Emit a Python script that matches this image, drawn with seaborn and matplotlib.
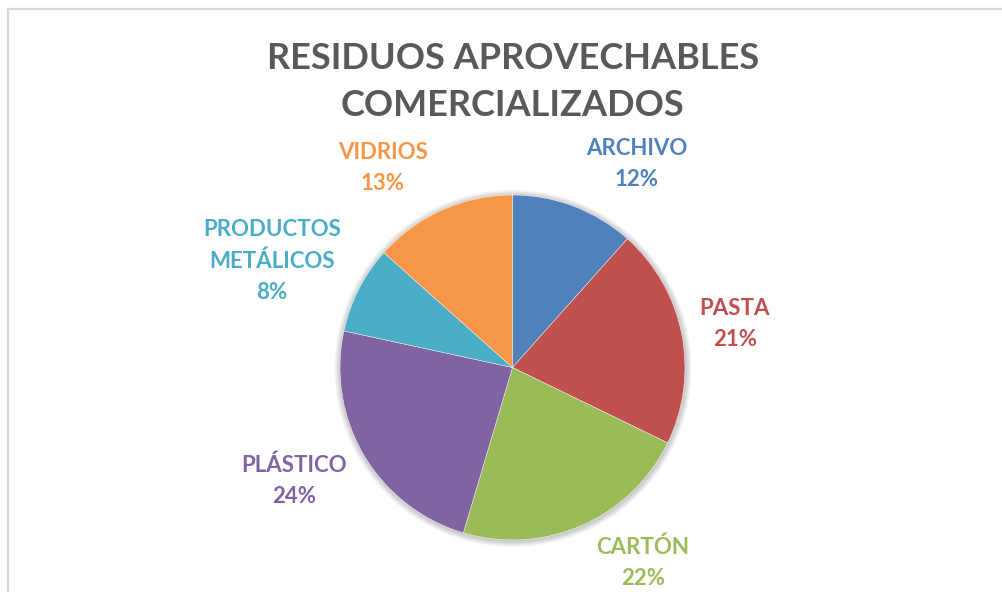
import matplotlib
matplotlib.use("Agg")
import matplotlib.pyplot as plt
import matplotlib.patches as mpatches
import seaborn as sns

categories = ["ARCHIVO", "PASTA", "CARTÓN", "PLÁSTICO", "PRODUCTOS\nMETÁLICOS", "VIDRIOS"]
values = [11.6, 20.6, 22.4, 23.8, 8.2, 13.4]
colors = ["#4F81BD", "#C0504D", "#9BBB59", "#8064A2", "#4BACC6", "#F79646"]
title = "RESIDUOS APROVECHABLES\nCOMERCIALIZADOS"

sns.set_theme(style="white")
plt.rcParams["font.family"] = ["Lato", "DejaVu Sans"]

W, H = 1003, 592
fig = plt.figure(figsize=(W / 100, H / 100), dpi=100)
ax = fig.add_axes([0, 0, 1, 1])

# outer chart frame
fig.patches.append(mpatches.Rectangle((8 / W, -0.05), 1.2, (H - 9) / H + 0.05,
                                      transform=fig.transFigure, fill=False,
                                      edgecolor="#D9D9D9", linewidth=1.6))

cx, cy, r = 512.5, H - 367.5, 172.5

# soft shadow around the pie
for k in range(6, 0, -1):
    ax.add_patch(mpatches.Circle((cx + 0.5, cy - 1), r + k, facecolor="#000000",
                                 alpha=0.035, edgecolor="none", zorder=0))

wedges, _ = ax.pie(values, colors=colors, startangle=90, counterclock=False,
                   center=(cx, cy), radius=r, frame=True,
                   wedgeprops=dict(edgecolor="#FFFFFF", linewidth=0.3, zorder=2))
ax.set_xlim(0, W)
ax.set_ylim(0, H)
ax.set_aspect("equal")
ax.axis("off")

total = sum(values)
label_pos = [(637, 164), (735, 324), (643, 563), (294, 481), (272, 261), (383, 168)]
for cat, val, col, (lx, ly) in zip(categories, values, colors, label_pos):
    pct = round(100 * val / total)
    ax.text(lx, H - ly, f"{cat}\n{pct}%", ha="center", va="center",
            fontsize=16, fontweight="bold", color=col, linespacing=1.6)

ax.text(513, H - 82, title, ha="center", va="center", fontsize=26,
        fontweight="bold", color="#595959", linespacing=1.5)

fig.savefig("out.png", dpi=100)
